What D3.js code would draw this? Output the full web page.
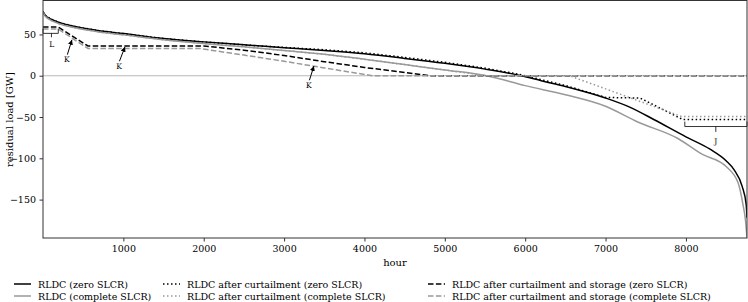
<!DOCTYPE html>
<html><head><meta charset="utf-8">
<script src="https://cdn.jsdelivr.net/npm/d3@7"></script>
<style>
html,body{margin:0;padding:0;background:#fff;}
text{font-family:"DejaVu Serif",serif;fill:#000;}
</style></head>
<body><svg id="c" width="748" height="302"></svg>
<script>
// ---- data ----
const xTicks = [1000,2000,3000,4000,5000,6000,7000,8000];
const yTicks = [-150,-100,-50,0,50];

const rldcZeroH = [0,30,100,200,400,700,1000,1500,2000,2500,3000,3500,4000,4500,5000,5500,5950,6200,6500,7000,7300,7600,8000,8300,8500,8600,8700,8750,8760];
const rldcZeroV = [77.5,73,68.5,64.5,59.5,54.5,51,45,41,37.5,34,30.5,26.5,21,15,8,0,-6,-13,-27,-38,-53,-74,-89,-103,-114,-134,-156,-172];

const rldcCompH = [0,30,100,200,400,700,1000,1500,2000,2500,3000,3500,4000,4500,5000,5520,6000,6500,7000,7400,7900,8200,8500,8650,8710,8740,8760];
const rldcCompV = [77,72,67,63,58,53,49.5,43.5,39,35,30.5,26,20,13.5,7,0,-12,-23,-37,-56,-76,-95,-110,-130,-156,-174,-196];

const curtZeroH = [0,30,100,200,400,700,1000,1500,2000,2500,3000,3500,4000,4500,5000,5500,5950,6200,6500,7000,7430,7960,8760];
const curtZeroV = [77.5,73,68.5,64.5,59.5,54.5,51,45,41,37.5,34.3,31.5,27.7,22.2,16.2,9.2,1.2,-4.8,-11.8,-26.3,-27,-53,-53];

const curtCompH = [0,30,100,200,400,700,1000,1500,2000,2500,3000,3500,4000,4500,5000,5520,6550,7950,8760];
const curtCompV = [77,72,67,63,58,53,49.5,43.5,39,35,30.5,26,20,13.5,7,0,0,-49.5,-49.5];

const storZeroH = [0,190,560,2000,2500,3000,3500,4000,4500,4820,8760];
const storZeroV = [59,59,36,36,31,24.5,17,10,4,0,0];

const storCompH = [0,190,560,1950,2500,3000,3500,4100,8760];
const storCompV = [56.5,56.5,33,33,25,17.5,9.5,0,0];

const legendLabels = ["RLDC (zero SLCR)","RLDC (complete SLCR)","RLDC after curtailment (zero SLCR)","RLDC after curtailment (complete SLCR)","RLDC after curtailment and storage (zero SLCR)","RLDC after curtailment and storage (complete SLCR)"];

// annotations in data units
const kLabels = ["K","K","K"];
const kLabelH = [297,945,3309];
const kLabelV = [19.5,11.5,-11.5];
const kTipH = [360,1020,3371];
const kTipV = [43.5,35,11.7];

// ---- drawing ----
const svg = d3.select("#c");
const x = d3.scaleLinear().domain([0,8760]).range([43,747]);
const y = d3.scaleLinear().domain([-196.5,90.5]).range([238,1]);

const defs = svg.append("defs");
defs.append("clipPath").attr("id","clip")
  .append("rect").attr("x",43).attr("y",1).attr("width",704).attr("height",237);
defs.append("marker").attr("id","ah").attr("viewBox","0 0 10 10").attr("refX",10).attr("refY",5)
  .attr("markerWidth",5).attr("markerHeight",5).attr("orient","auto").attr("markerUnits","userSpaceOnUse")
  .append("path").attr("d","M0,0L10,5L0,10z").attr("fill","#000");

const g = svg.append("g").attr("clip-path","url(#clip)");
g.append("line").attr("x1",x(0)).attr("x2",x(8760)).attr("y1",y(0)).attr("y2",y(0))
  .attr("stroke","#b8b8b8").attr("stroke-width",1.2);

const smooth = d3.line().x(d=>x(d[0])).y(d=>y(d[1])).curve(d3.curveMonotoneX);
const straight = d3.line().x(d=>x(d[0])).y(d=>y(d[1])).curve(d3.curveLinear);
const series = [
  {h:rldcZeroH,v:rldcZeroV,c:"#000",d:null},
  {h:rldcCompH,v:rldcCompV,c:"#999",d:null},
  {h:curtZeroH,v:curtZeroV,c:"#000",d:"1.5,2.5"},
  {h:curtCompH,v:curtCompV,c:"#999",d:"1.5,2.5"},
  {h:storZeroH,v:storZeroV,c:"#000",d:"5.5,2.4"},
  {h:storCompH,v:storCompV,c:"#999",d:"5.5,2.4"}
];
series.forEach(s=>{
  const pts = s.h.map((h,i)=>[h,s.v[i]]);
  const p = g.append("path").attr("d", s.d ? straight(pts) : smooth(pts))
    .attr("fill","none").attr("stroke",s.c).attr("stroke-width",1.5);
  if(s.d) p.attr("stroke-dasharray",s.d);
});

function bracket(h0,h1,v,vEnd,hs,vs){
  const p = d3.path();
  p.moveTo(x(h0),y(vEnd)); p.lineTo(x(h0),y(v)); p.lineTo(x(h1),y(v)); p.lineTo(x(h1),y(vEnd));
  p.moveTo(x(hs),y(v)); p.lineTo(x(hs),y(vs));
  svg.append("path").attr("d",p.toString()).attr("fill","none").attr("stroke","#000").attr("stroke-width",0.8);
}
bracket(0,190,51.3,57,105,46.5);
svg.append("text").attr("x",x(108)).attr("y",y(37.5)).attr("text-anchor","middle").attr("dominant-baseline","central").style("font-size","7.5px").text("L");
bracket(7986,8760,-61.5,-55.5,8372,-68);
svg.append("text").attr("x",x(8372)).attr("y",y(-79.5)).attr("text-anchor","middle").attr("dominant-baseline","central").style("font-size","7.5px").text("J");

kLabels.forEach((k,i)=>{
  const lx = x(kLabelH[i]), ly = y(kLabelV[i]);
  svg.append("text").attr("x",lx).attr("y",ly).attr("text-anchor","middle").attr("dominant-baseline","central").style("font-size","7.5px").text(k);
  svg.append("line").attr("x1",lx+0.5).attr("y1",ly-5).attr("x2",x(kTipH[i])).attr("y2",y(kTipV[i]))
    .attr("stroke","#000").attr("stroke-width",1).attr("marker-end","url(#ah)");
});

svg.append("rect").attr("x",43).attr("y",0.5).attr("width",704).attr("height",237.5)
  .attr("fill","none").attr("stroke","#333").attr("stroke-width",1);

const xa = svg.append("g").attr("transform","translate(0,238)")
  .call(d3.axisBottom(x).tickValues(xTicks).tickFormat(d3.format("d")).tickSize(3.5).tickPadding(3.5));
const ya = svg.append("g").attr("transform","translate(43,0)")
  .call(d3.axisLeft(y).tickValues(yTicks).tickFormat(d=>d<0?"\u2212"+Math.abs(d):String(d)).tickSize(3.5).tickPadding(3.5));
[xa,ya].forEach(a=>{
  a.select(".domain").remove();
  a.selectAll(".tick line").attr("stroke","#333");
  a.selectAll(".tick text").style("font-size","9.5px").style("font-family","DejaVu Serif").attr("fill","#000");
});

svg.append("text").attr("x",395).attr("y",266).attr("text-anchor","middle").style("font-size","10px").text("hour");
svg.append("text").attr("transform","translate(9,119.5) rotate(-90)").attr("text-anchor","middle").attr("dominant-baseline","central").style("font-size","10px").text("residual load [GW]");

const legX = [14,163,428];
const legY = [284,296];
const legStyle = [
  {c:"#000",d:null},{c:"#999",d:null},
  {c:"#000",d:"1.5,2.5"},{c:"#999",d:"1.5,2.5"},
  {c:"#000",d:"5.5,2.4"},{c:"#999",d:"5.5,2.4"}
];
legendLabels.forEach((lab,i)=>{
  const col = Math.floor(i/2), row = i%2;
  const lx = legX[col], ly = legY[row];
  const l = svg.append("line").attr("x1",lx).attr("x2",lx+17).attr("y1",ly).attr("y2",ly)
    .attr("stroke",legStyle[i].c).attr("stroke-width",1.5);
  if(legStyle[i].d) l.attr("stroke-dasharray",legStyle[i].d);
  svg.append("text").attr("x",lx+24).attr("y",ly).attr("dominant-baseline","central").style("font-size","9.5px").text(lab);
});
</script>
</body></html>
